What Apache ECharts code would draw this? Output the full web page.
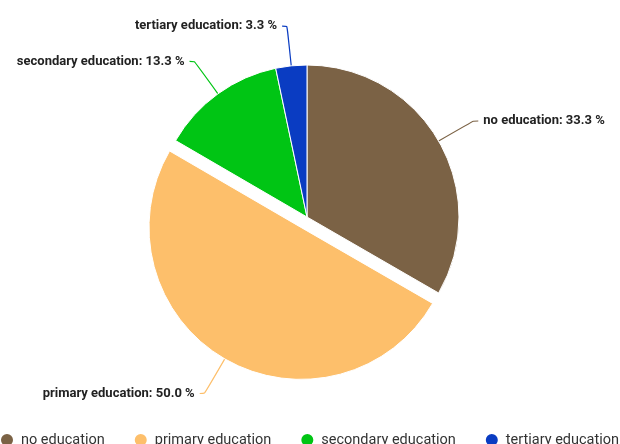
<!DOCTYPE html>
<html>
<head>
<meta charset="utf-8">
<script src="https://cdn.jsdelivr.net/npm/echarts@6/dist/echarts.min.js"></script>
<style>
  html, body { margin: 0; padding: 0; background: #fff; }
  #chart { width: 620px; height: 444px; }
</style>
</head>
<body>
<div id="chart"></div>
<script>
// Share of people by highest level of education (percent)
const categories = ['no education', 'primary education', 'secondary education', 'tertiary education'];
const shares = [33.3, 50.0, 13.3, 3.3];
const colors = ['#7b6245', '#fdbf6b', '#00c514', '#0a3cc2'];
const highlighted = 'primary education';

const chart = echarts.init(document.getElementById('chart'), null, { renderer: 'canvas' });

const data = categories.map((name, i) => ({
  name: name,
  value: shares[i],
  selected: name === highlighted,
  itemStyle: { color: colors[i] }
}));

chart.setOption({
  animation: false,
  legend: {
    data: categories,
    left: -6,
    top: 427,
    width: 900,
    icon: 'circle',
    itemWidth: 14,
    itemHeight: 14,
    itemGap: 28,
    textStyle: { fontFamily: 'Roboto', fontSize: 14.5, color: '#333', padding: [0, 0, 0, 2] }
  },
  series: [{
    type: 'pie',
    center: [307, 217],
    radius: 152,
    startAngle: 90,
    clockwise: true,
    selectedMode: 'single',
    selectedOffset: 12,
    itemStyle: { borderColor: '#fff', borderWidth: 1 },
    label: {
      show: true,
      position: 'outside',
      formatter: p => p.name + ': ' + p.value.toFixed(1) + ' %',
      fontFamily: 'Roboto',
      fontWeight: 'bold',
      fontSize: 13,
      color: '#222'
    },
    labelLine: { show: true, length: 40, length2: 5, smooth: 0.2, lineStyle: { width: 1.2 } },
    emphasis: { disabled: true },
    data: data
  }]
});
</script>
</body>
</html>
